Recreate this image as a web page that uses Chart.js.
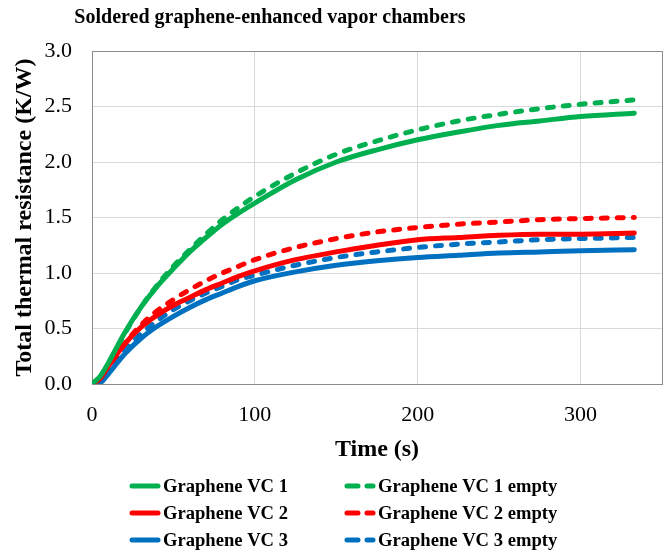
<!DOCTYPE html>
<html>
<head>
<meta charset="utf-8">
<script src="https://cdn.jsdelivr.net/npm/chart.js@4"></script>
<style>
  body { margin: 0; background: #fff; }
  canvas { display: block; }
</style>
</head>
<body>
<canvas id="vcChart" width="666" height="554"></canvas>
<script>
// time axis (s) shared by all series
const times = [0, 5, 10, 20, 30, 40, 50, 60, 70, 80, 90, 100, 125, 150, 175, 200, 225, 250, 275, 300, 333];

const vc1 = [0, 0.07, 0.19, 0.46, 0.69, 0.88, 1.04, 1.19, 1.32, 1.44, 1.54, 1.63, 1.84, 2.00, 2.11, 2.20, 2.27, 2.33, 2.37, 2.41, 2.44];
const vc2 = [0, 0.05, 0.16, 0.36, 0.51, 0.62, 0.71, 0.78, 0.85, 0.91, 0.97, 1.02, 1.12, 1.19, 1.25, 1.30, 1.32, 1.34, 1.35, 1.35, 1.36];
const vc3 = [0, 0.01, 0.09, 0.27, 0.41, 0.52, 0.61, 0.69, 0.76, 0.82, 0.88, 0.93, 1.01, 1.07, 1.11, 1.14, 1.16, 1.18, 1.19, 1.20, 1.21];
const vc1Empty = [0, 0.06, 0.18, 0.45, 0.69, 0.89, 1.06, 1.21, 1.35, 1.48, 1.59, 1.69, 1.90, 2.07, 2.19, 2.29, 2.37, 2.43, 2.48, 2.52, 2.56];
const vc2Empty = [0, 0.04, 0.14, 0.36, 0.53, 0.66, 0.76, 0.85, 0.93, 1.00, 1.06, 1.12, 1.23, 1.31, 1.37, 1.41, 1.44, 1.46, 1.48, 1.49, 1.50];
const vc3Empty = [0, 0.02, 0.11, 0.30, 0.45, 0.57, 0.67, 0.75, 0.82, 0.88, 0.94, 0.98, 1.07, 1.14, 1.19, 1.23, 1.26, 1.28, 1.30, 1.31, 1.32];

const seriesNames = ['Graphene VC 1', 'Graphene VC 2', 'Graphene VC 3',
                     'Graphene VC 1 empty', 'Graphene VC 2 empty', 'Graphene VC 3 empty'];
const seriesValues = [vc1, vc2, vc3, vc1Empty, vc2Empty, vc3Empty];
const xTicks = [0, 100, 200, 300];

const colors = ['#00B050', '#FF0000', '#0070C0'];
const dashPattern = [6, 10];
const serif = "'Liberation Serif', 'Times New Roman', serif";

const datasets = seriesValues.map((vals, i) => ({
    label: seriesNames[i],
    data: vals.map((v, j) => ({ x: times[j], y: v })),
    borderColor: colors[i % 3],
    backgroundColor: colors[i % 3],
    borderWidth: 5,
    borderDash: i >= 3 ? dashPattern : [],
    borderCapStyle: 'round',
    pointRadius: 0,
    cubicInterpolationMode: 'monotone',
    fill: false
}));

// plot frame, drawn under the lines
const framePlugin = {
    id: 'frame',
    beforeDatasetsDraw(chart) {
        const { ctx, chartArea: a } = chart;
        ctx.save();
        ctx.strokeStyle = '#8c8c8c';
        ctx.lineWidth = 1;
        ctx.strokeRect(a.left + 0.5, a.top + 0.5, a.right - a.left, a.bottom - a.top);
        ctx.restore();
    }
};

// title and two-column legend
const textPlugin = {
    id: 'texts',
    afterDraw(chart) {
        const ctx = chart.ctx;
        ctx.save();
        ctx.fillStyle = '#000';
        ctx.font = 'bold 20px ' + serif;
        ctx.textAlign = 'center';
        ctx.textBaseline = 'middle';
        ctx.fillText('Soldered graphene-enhanced vapor chambers', 270, 18);

        ctx.textAlign = 'left';
        ctx.font = 'bold 18.6px ' + serif;
        chart.data.datasets.forEach((ds, i) => {
            const col = Math.floor(i / 3);
            const row = i % 3;
            const x0 = [130, 345][col];
            const y = 486 + row * 27;
            ctx.strokeStyle = ds.borderColor;
            ctx.lineWidth = 5;
            ctx.lineCap = 'round';
            ctx.setLineDash(i >= 3 ? [11, 9] : []);
            ctx.beginPath();
            ctx.moveTo(x0 + 2, y);
            ctx.lineTo(x0 + 28, y);
            ctx.stroke();
            ctx.setLineDash([]);
            ctx.fillText(ds.label, x0 + 33, y + 1);
        });
        ctx.restore();
    }
};

new Chart(document.getElementById('vcChart'), {
    type: 'line',
    data: { datasets: datasets },
    options: {
        responsive: false,
        animation: false,
        devicePixelRatio: 1,
        layout: { padding: { left: 10.6, right: 4, top: 51, bottom: 90 } },
        plugins: {
            legend: { display: false },
            tooltip: { enabled: false }
        },
        scales: {
            x: {
                type: 'linear',
                min: 0,
                max: 350,
                afterBuildTicks: s => { s.ticks = xTicks.map(v => ({ value: v })); },
                afterFit: s => { s.height = 80; },
                grid: { color: '#d9d9d9', drawTicks: false },
                border: { display: false },
                ticks: { color: '#000', font: { family: serif, size: 22 }, padding: 18, maxRotation: 0 },
                title: { display: true, text: 'Time (s)', color: '#000',
                         font: { family: serif, size: 24, weight: 'bold' }, padding: 0 }
            },
            y: {
                min: 0,
                max: 3,
                afterFit: s => { s.width = 81.4; },
                grid: { color: '#d9d9d9', drawTicks: false },
                border: { display: false },
                ticks: { stepSize: 0.5, color: '#000', font: { family: serif, size: 22 }, padding: 20,
                         callback: v => v.toFixed(1) },
                title: { display: true, text: 'Total thermal resistance (K/W)', color: '#000',
                         font: { family: serif, size: 24, weight: 'bold' }, padding: 0 }
            }
        }
    },
    plugins: [framePlugin, textPlugin]
});
</script>
</body>
</html>
